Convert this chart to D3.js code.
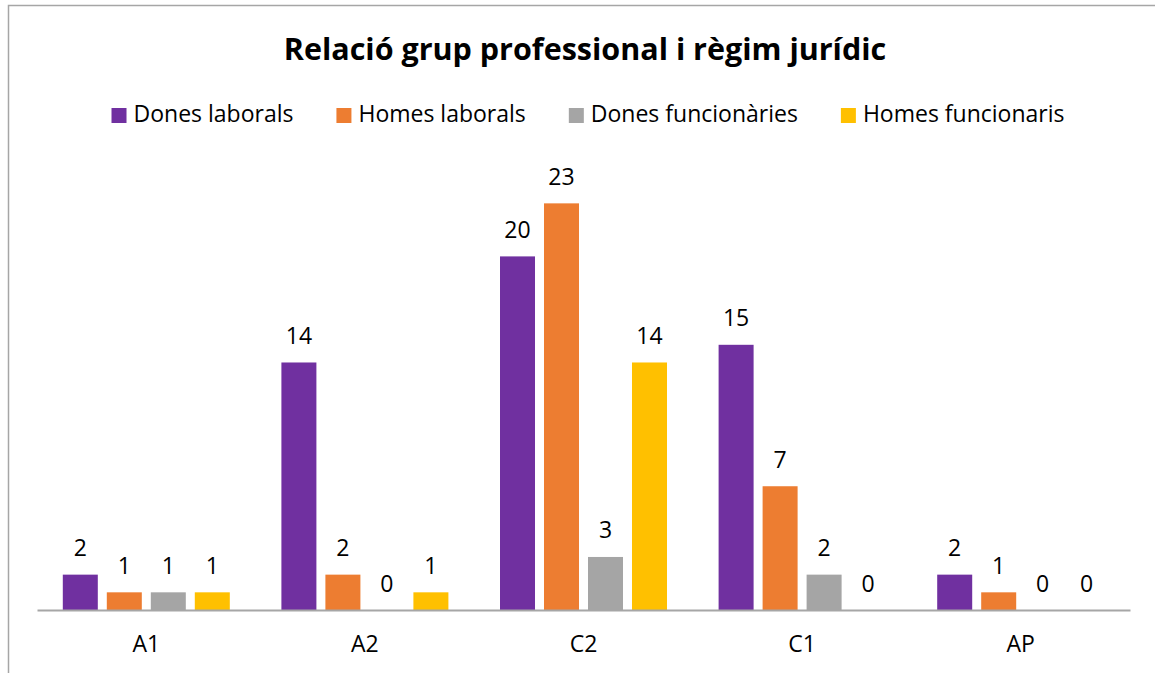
<!DOCTYPE html>
<html>
<head>
<meta charset="utf-8">
<script src="https://cdn.jsdelivr.net/npm/d3@7"></script>
<style>
  body { margin: 0; background: #fff; }
  svg { display: block; font-family: "Open Sans", sans-serif; }
</style>
</head>
<body>
<svg width="1155" height="673"></svg>
<script>
// data
var categories = ['A1', 'A2', 'C2', 'C1', 'AP'];
var seriesNames = ['Dones laborals', 'Homes laborals', 'Dones funcionàries', 'Homes funcionaris'];
var colors = ['#7030A0', '#ED7D31', '#A5A5A5', '#FFC000'];
var donesLaborals = [2, 14, 20, 15, 2];
var homesLaborals = [1, 2, 23, 7, 1];
var donesFuncionaries = [1, 0, 3, 2, 0];
var homesFuncionaris = [1, 1, 14, 0, 0];
var seriesValues = [donesLaborals, homesLaborals, donesFuncionaries, homesFuncionaris];

var FS = 23;
var svg = d3.select('svg');

// chart border (top + left only visible)
svg.append('path')
  .attr('d', 'M8.5,673 L8.5,5.5 L1155,5.5')
  .attr('fill', 'none')
  .attr('stroke', '#a6a6a6')
  .attr('stroke-width', 1.5);

// title
svg.append('text')
  .attr('x', 585).attr('y', 60)
  .attr('text-anchor', 'middle')
  .attr('font-weight', 'bold')
  .attr('font-size', 30.5)
  .attr('fill', '#000')
  .text('Relació grup professional i règim jurídic');

// scales
var x0 = d3.scaleBand().domain(categories).range([37, 1130]).padding(0);
var groupW = 176;
var x1 = d3.scaleBand().domain(d3.range(4))
  .range([(x0.bandwidth() - groupW) / 2, (x0.bandwidth() + groupW) / 2])
  .paddingInner(0.2045).paddingOuter(0.1023);
var y = d3.scaleLinear().domain([0, 25]).range([610, 168]);

var rows = [];
categories.forEach(function(c, ci) {
  seriesValues.forEach(function(vals, si) {
    rows.push({ cat: c, s: si, v: vals[ci] });
  });
});

var g = svg.append('g');
g.selectAll('rect.bar').data(rows.filter(function(d) { return d.v > 0; }))
  .enter().append('rect')
  .attr('class', 'bar')
  .attr('x', function(d) { return x0(d.cat) + x1(d.s); })
  .attr('y', function(d) { return y(d.v); })
  .attr('width', x1.bandwidth())
  .attr('height', function(d) { return y(0) - y(d.v); })
  .attr('fill', function(d) { return colors[d.s]; });

// value labels
g.selectAll('text.lbl').data(rows)
  .enter().append('text')
  .attr('class', 'lbl')
  .attr('x', function(d) { return x0(d.cat) + x1(d.s) + x1.bandwidth() / 2; })
  .attr('y', function(d) { return y(d.v) - 18.5; })
  .attr('text-anchor', 'middle')
  .attr('font-size', FS)
  .attr('fill', '#000')
  .text(function(d) { return d.v; });

// x axis
var ax = svg.append('g').attr('transform', 'translate(0,' + y(0) + ')')
  .call(d3.axisBottom(x0).tickSize(0).tickPadding(0));
ax.select('.domain').attr('stroke', '#a6a6a6').attr('stroke-width', 2);
ax.selectAll('.tick text')
  .attr('font-size', FS)
  .attr('font-family', '"Open Sans", sans-serif')
  .attr('fill', '#000')
  .attr('dy', null)
  .attr('y', 42);

// legend
var legend = svg.append('g');
var items = legend.selectAll('g').data(seriesNames).enter().append('g');
items.append('rect')
  .attr('width', 15).attr('height', 15)
  .attr('y', 108)
  .attr('fill', function(d, i) { return colors[i]; });
items.append('text')
  .attr('x', 22).attr('y', 122)
  .attr('font-size', FS)
  .attr('fill', '#000')
  .text(function(d) { return d; });
var widths = [];
items.each(function() {
  var w = d3.select(this).select('text').node().getComputedTextLength();
  widths.push(22 + w);
});
var total = d3.sum(widths) + 43 * (widths.length - 1);
var xPos = 588 - total / 2;
items.attr('transform', function(d, i) {
  var t = 'translate(' + xPos + ',0)';
  xPos += widths[i] + 43;
  return t;
});
</script>
</body>
</html>
